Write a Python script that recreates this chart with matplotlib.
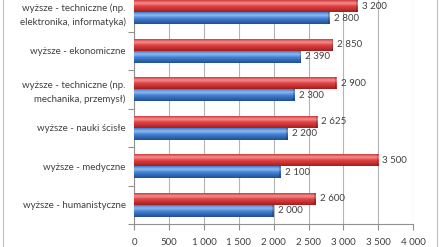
import matplotlib
matplotlib.use("Agg")
import matplotlib.pyplot as plt
import numpy as np
from matplotlib.colors import LinearSegmentedColormap
from matplotlib.patches import Rectangle

plt.rcParams['font.family'] = ['Lato', 'DejaVu Sans']

# kategorie od dołu do góry
kategorie = [
    "wyższe - humanistyczne",
    "wyższe - medyczne",
    "wyższe - nauki ścisłe",
    "wyższe - techniczne (np.\nmechanika, przemysł)",
    "wyższe - ekonomiczne",
    "wyższe - techniczne (np.\nelektronika, informatyka)",
]
czerwone = [2600, 3500, 2625, 2900, 2850, 3200]
niebieskie = [2000, 2100, 2200, 2300, 2390, 2800]
ticks_x = [0, 500, 1000, 1500, 2000, 2500, 3000, 3500, 4000]

cmap_red = LinearSegmentedColormap.from_list(
    "r", ["#9e1f1f", "#c92f2f", "#e04545", "#f29090", "#d23a3a"])
cmap_blue = LinearSegmentedColormap.from_list(
    "b", ["#234f94", "#3068b8", "#4a86d6", "#8fbbf0", "#3f7acc"])


def fmt(v):
    return f"{v:,}".replace(",", " ")


fig = plt.figure(figsize=(4.4, 2.47), dpi=100)
fig.patch.set_facecolor("white")
ax = fig.add_axes([0.305, 0.093, 0.634, 0.935])

y = np.arange(len(kategorie))
h = 0.31
bars_r = ax.barh(y + h / 2, czerwone, height=h, color="none")
bars_b = ax.barh(y - h / 2, niebieskie, height=h, color="none")

grad = np.linspace(0, 1, 64).reshape(-1, 1)
for bars, cmap in ((bars_r, cmap_red), (bars_b, cmap_blue)):
    for b in bars:
        x0, y0, w, hh = b.get_x(), b.get_y(), b.get_width(), b.get_height()
        ax.imshow(grad, cmap=cmap, aspect="auto", origin="lower",
                  extent=(x0, x0 + w, y0, y0 + hh), zorder=3)
        ax.add_patch(Rectangle((x0 + w - 18, y0), 18, hh, color="black",
                               alpha=0.18, lw=0, zorder=4))

for b, v in zip(bars_r, czerwone):
    ax.text(v + 60, b.get_y() + b.get_height() / 2, fmt(v), va="center",
            ha="left", fontsize=7, color="#404040")
for b, v in zip(bars_b, niebieskie):
    ax.text(v + 60, b.get_y() + b.get_height() / 2, fmt(v), va="center",
            ha="left", fontsize=7, color="#404040")

ax.set_xlim(0, 4000)
ax.set_ylim(-0.5, len(kategorie) - 0.5)
ax.set_xticks(ticks_x)
ax.set_xticklabels([fmt(t) for t in ticks_x], fontsize=7, color="#404040")
ax.set_yticks(y)
ax.set_yticklabels(kategorie, fontsize=7, color="#404040", linespacing=1.5)
ax.set_yticks(np.arange(-0.5, len(kategorie), 1), minor=True)
ax.tick_params(axis="y", which="major", length=0, pad=6)
ax.tick_params(axis="y", which="minor", length=4, color="#909090", width=0.8)
ax.tick_params(axis="x", length=4, color="#909090", width=0.8, pad=6)

ax.grid(axis="x", color="#b4b4b4", lw=0.8, zorder=0)
ax.set_axisbelow(True)
for s in ("top", "right"):
    ax.spines[s].set_visible(False)
for s in ("left", "bottom"):
    ax.spines[s].set_color("#909090")
    ax.spines[s].set_linewidth(0.8)

# ramka wykresu
fig.add_artist(Rectangle((0.007, -0.05), 0.986, 1.2, transform=fig.transFigure,
                         fill=False, ec="#c0c0c0", lw=0.8))

fig.savefig("out.png", dpi=100, facecolor="white")
